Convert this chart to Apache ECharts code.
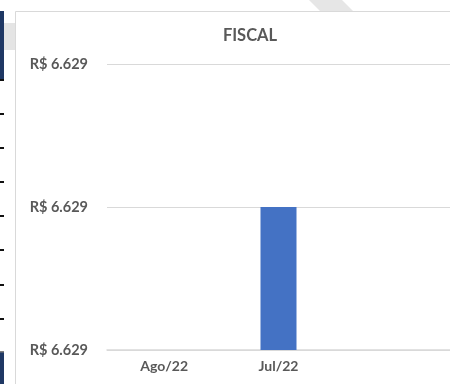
<!DOCTYPE html>
<html>
<head>
<meta charset="utf-8">
<script src="https://cdn.jsdelivr.net/npm/echarts@6/dist/echarts.min.js"></script>
<style>
  html, body { margin: 0; padding: 0; background: #ffffff; overflow: hidden; }
  #chart { width: 450px; height: 384px; }
</style>
</head>
<body>
<div id="chart"></div>
<script>
// Monthly fiscal amount (R$)
const categories = ['Ago/22', 'Jul/22', ''];
const fiscalValues = [null, 6629, null];
const axisMin = 6628.8;
const axisMax = 6629.2;
const axisStep = 0.2;
const chartTitle = 'FISCAL';

const FONT = 'Lato, "Open Sans", sans-serif';
const TEXT = '#595959';
const GRID_LINE = '#d9d9d9';

function brl(v) {
  const n = Math.round(v);
  return 'R$ ' + n.toString().replace(/\B(?=(\d{3})+(?!\d))/g, '.');
}

// decorative fragments of the surrounding dashboard
const dashYs = [80, 114, 148, 182, 216, 250, 285, 319];
const decorations = [
  { type: 'rect', shape: { x: 0, y: 11, width: 4, height: 69 }, style: { fill: '#1f3864' }, silent: true },
  { type: 'rect', shape: { x: 0, y: 352, width: 4, height: 32 }, style: { fill: '#1f3864' }, silent: true },
  { type: 'rect', shape: { x: 0, y: 351, width: 4, height: 1.5 }, style: { fill: '#7f7f7f' }, silent: true },
  { type: 'rect', shape: { x: 4, y: 23, width: 11, height: 27 }, style: { fill: '#e4e4e4' }, silent: true },
  { type: 'polygon', shape: { points: [[309, 0], [342, 0], [353, 11], [320, 11]] }, style: { fill: '#e6e6e6' }, silent: true },
  // chart panel outline (top and left edges visible)
  { type: 'line', shape: { x1: 15.5, y1: 11.5, x2: 450, y2: 11.5 }, style: { stroke: '#d9d9d9', lineWidth: 1 }, silent: true },
  { type: 'line', shape: { x1: 15.5, y1: 11.5, x2: 15.5, y2: 384 }, style: { stroke: '#d9d9d9', lineWidth: 1 }, silent: true }
];
dashYs.forEach(y => decorations.push({
  type: 'rect', shape: { x: 0, y: y - 1, width: 4, height: 2 }, style: { fill: '#111111' }, silent: true
}));

const chart = echarts.init(document.getElementById('chart'), null, { renderer: 'canvas' });
chart.setOption({
  animation: false,
  backgroundColor: '#ffffff',
  graphic: decorations,
  title: {
    text: chartTitle,
    left: 245,
    top: 22,
    textAlign: 'center',
    textStyle: { fontFamily: FONT, fontWeight: 'bold', fontSize: 16.5, color: TEXT }
  },
  grid: { left: 107, top: 64, width: 351, height: 286, containLabel: false },
  xAxis: {
    type: 'category',
    data: categories,
    axisLine: { show: true, lineStyle: { color: GRID_LINE, width: 1.5 } },
    axisTick: { show: false },
    splitLine: { show: false },
    axisLabel: { fontFamily: FONT, fontWeight: 'bold', fontSize: 14, color: TEXT, margin: 9 }
  },
  yAxis: {
    type: 'value',
    min: axisMin,
    max: axisMax,
    interval: axisStep,
    axisLine: { show: false },
    axisTick: { show: false },
    splitLine: { lineStyle: { color: GRID_LINE, width: 1 } },
    axisLabel: {
      fontFamily: FONT, fontWeight: 'bold', fontSize: 14.5, color: TEXT, margin: 19,
      formatter: v => brl(v)
    }
  },
  series: [{
    type: 'bar',
    data: fiscalValues,
    barWidth: 36,
    itemStyle: { color: '#4472c4' }
  }]
});
</script>
</body>
</html>
